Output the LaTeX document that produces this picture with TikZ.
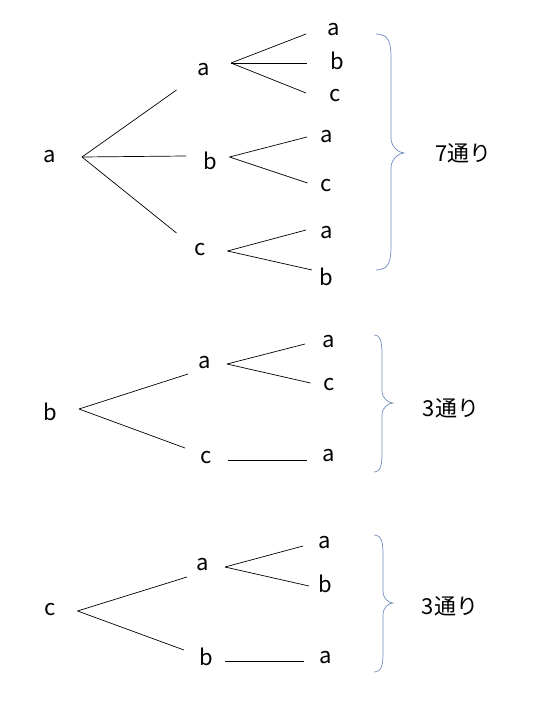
\documentclass[tikz,border=0pt]{standalone}
\usepackage{fontspec}
\setmainfont{Noto Sans CJK JP}
\definecolor{bracecol}{RGB}{112,140,190}
\tikzset{
  txt/.style={inner sep=0pt, outer sep=0pt, text height=11.9pt, text depth=0pt, font=\fontsize{22}{26}\selectfont},
  edge/.style={draw=black, line width=0.7pt},
  bracepath/.style={draw=bracecol, line width=0.7pt}
}
\newcommand\drawbrace[8]{%
  % #1 xl, #2 yt, #3 xv, #4 xt, #5 ym, #6 yb, #7 h end, #8 h tip
  \draw[bracepath] (#1,#2) .. controls ({#3-1},#2) and (#3,{#2+#7*0.4}) .. (#3,{#2+#7})
    -- (#3,{#5-#8}) .. controls (#3,{#5-#8*0.35}) and ({#4-4},#5) .. (#4,#5)
    .. controls ({#4-4},#5) and (#3,{#5+#8*0.35}) .. (#3,{#5+#8})
    -- (#3,{#6-#7}) .. controls (#3,{#6-#7*0.4}) and ({#3-1},#6) .. (#1,#6);}
\begin{document}
\begin{tikzpicture}[x=1pt,y=-1pt]
\useasboundingbox[fill=white] (0,0) rectangle (538,719);
% ---------- tree 1 ----------
\node[txt] (r1) at (50,157) {a};
\node[txt] (m1a) at (204,70) {a};
\node[txt] (m1b) at (210,163.5) {b};
\node[txt] (m1c) at (200.5,250) {c};
\node[txt] (l1aa) at (334,29.5) {a};
\node[txt] (l1ab) at (337.5,63.5) {b};
\node[txt] (l1ac) at (335,95.5) {c};
\node[txt] (l1ba) at (327,137) {a};
\node[txt] (l1bc) at (326.5,185.5) {c};
\node[txt] (l1ca) at (326.5,232.5) {a};
\node[txt] (l1cb) at (326.5,280) {b};
\node[txt] (t1) at (463.5,156) {7通り};
\draw[edge] ([shift={(32,0)}]r1.center) -- ([shift={(-27.5,20)}]m1a.center);
\draw[edge] ([shift={(32,0)}]r1.center) -- ([shift={(-24,-7.5)}]m1b.center);
\draw[edge] ([shift={(32,0)}]r1.center) -- ([shift={(-24,-17)}]m1c.center);
\draw[edge] ([shift={(27,-7)}]m1a.center) -- ([shift={(-28,4.5)}]l1aa.center);
\draw[edge] ([shift={(27,-7)}]m1a.center) -- ([shift={(-30.5,-0.5)}]l1ab.center);
\draw[edge] ([shift={(27,-7)}]m1a.center) -- ([shift={(-29,-2.5)}]l1ac.center);
\draw[edge] ([shift={(19.5,-6.5)}]m1b.center) -- ([shift={(-20,0)}]l1ba.center);
\draw[edge] ([shift={(19.5,-6.5)}]m1b.center) -- ([shift={(-19,-2.5)}]l1bc.center);
\draw[edge] ([shift={(27,1)}]m1c.center) -- ([shift={(-20.5,-2.5)}]l1ca.center);
\draw[edge] ([shift={(27,1)}]m1c.center) -- ([shift={(-14.5,-10)}]l1cb.center);
\drawbrace{376}{34}{391}{404}{153}{270}{26}{15}
% ---------- tree 2 ----------
\node[txt] (r2) at (50.5,415) {b};
\node[txt] (m2a) at (205,363) {a};
\node[txt] (m2c) at (206,458) {c};
\node[txt] (l2aa) at (329,342) {a};
\node[txt] (l2ac) at (329,385) {c};
\node[txt] (l2ca) at (329,456) {a};
\node[txt] (t2) at (451,411) {3通り};
\draw[edge] ([shift={(28.5,-6)}]r2.center) -- ([shift={(-17,11)}]m2a.center);
\draw[edge] ([shift={(28.5,-6)}]r2.center) -- ([shift={(-21,-10)}]m2c.center);
\draw[edge] ([shift={(22,1)}]m2a.center) -- ([shift={(-24,2)}]l2aa.center);
\draw[edge] ([shift={(22,1)}]m2a.center) -- ([shift={(-18.5,-2)}]l2ac.center);
\draw[edge] ([shift={(22,2)}]m2c.center) -- ([shift={(-22,4)}]l2ca.center);
\drawbrace{374}{335}{382}{393}{403}{472}{20}{12}
% ---------- tree 3 ----------
\node[txt] (r3) at (50,610) {c};
\node[txt] (m3a) at (203,565) {a};
\node[txt] (m3b) at (206.5,659.5) {b};
\node[txt] (l3aa) at (325,543) {a};
\node[txt] (l3ab) at (325,586.5) {b};
\node[txt] (l3ba) at (326,658) {a};
\node[txt] (t3) at (450,609) {3通り};
\draw[edge] ([shift={(27.5,1)}]r3.center) -- ([shift={(-16,12)}]m3a.center);
\draw[edge] ([shift={(27.5,1)}]r3.center) -- ([shift={(-22.5,-9.5)}]m3b.center);
\draw[edge] ([shift={(22,2)}]m3a.center) -- ([shift={(-22,3)}]l3aa.center);
\draw[edge] ([shift={(22,2)}]m3a.center) -- ([shift={(-16,-0.5)}]l3ab.center);
\draw[edge] ([shift={(18.5,1.5)}]m3b.center) -- ([shift={(-22,3)}]l3ba.center);
\drawbrace{374}{535}{383}{393}{603}{672}{20}{12}
\end{tikzpicture}
\end{document}
